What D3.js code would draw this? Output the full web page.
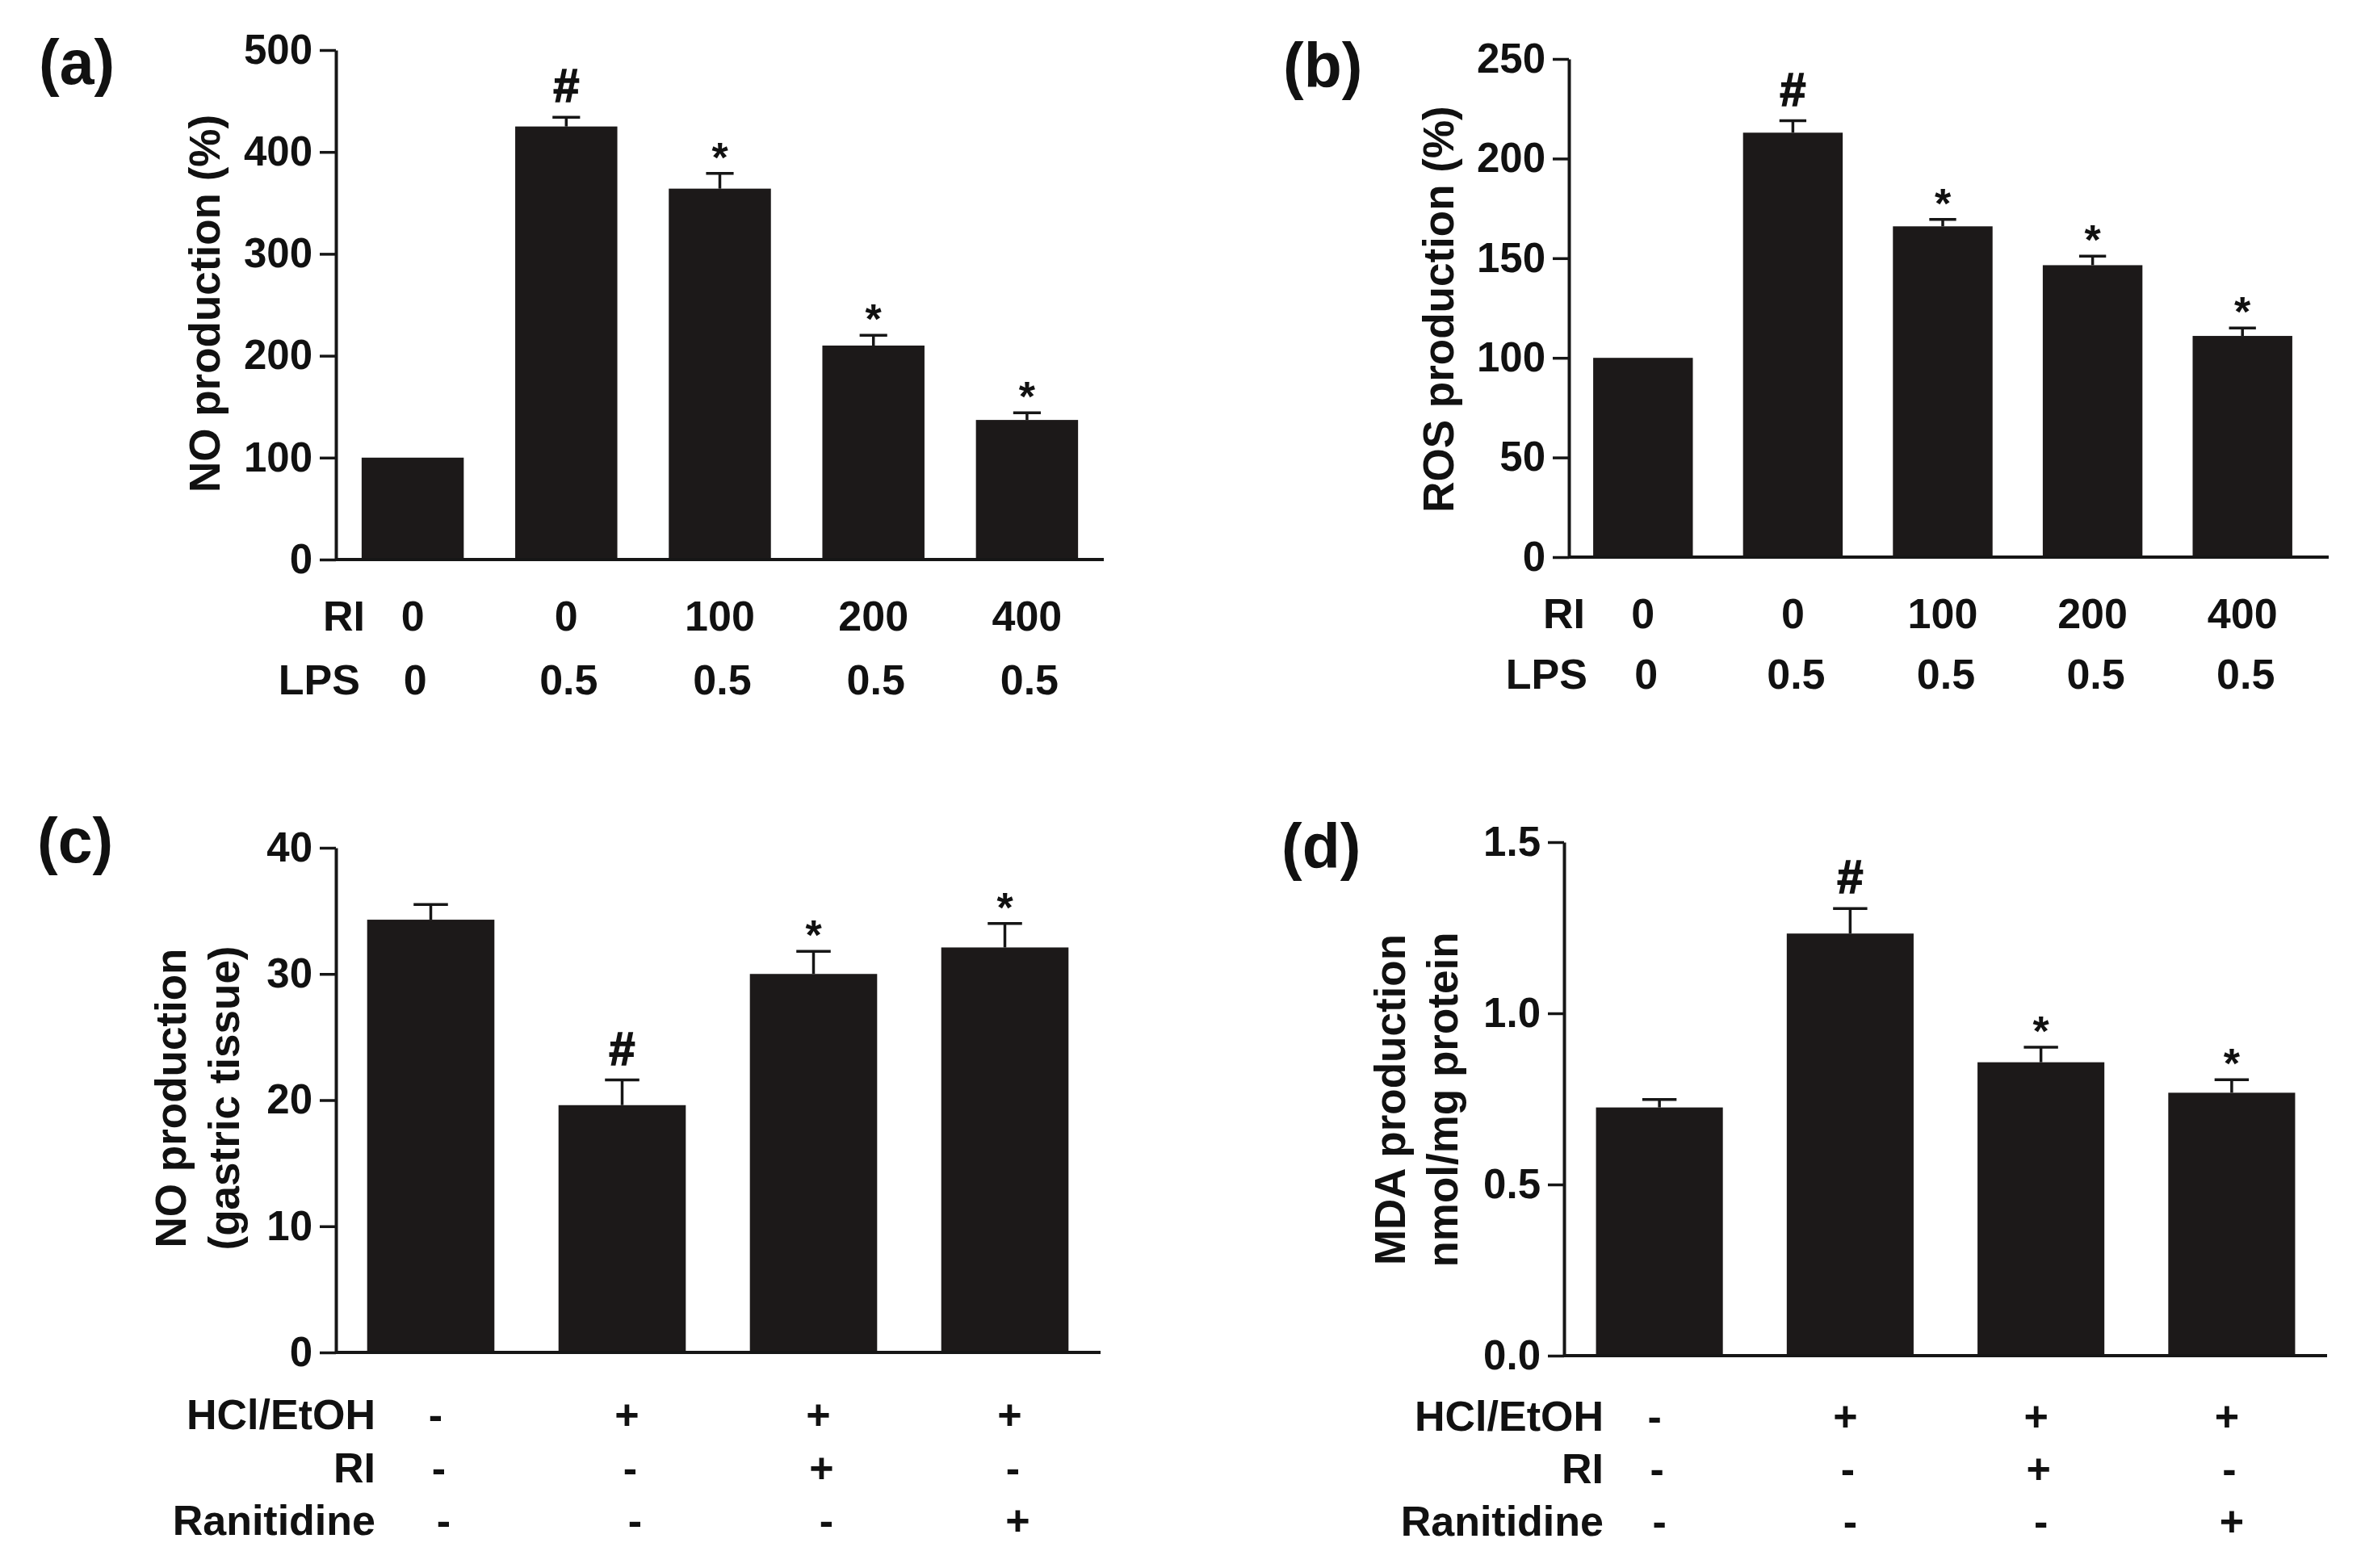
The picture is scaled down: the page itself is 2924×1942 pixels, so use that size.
<!DOCTYPE html>
<html>
<head>
<meta charset="utf-8">
<script src="https://cdn.jsdelivr.net/npm/d3@7"></script>
<style>
  html, body { margin: 0; padding: 0; background: #ffffff; }
  svg { display: block; }
  text { font-family: "Liberation Sans", Arial, sans-serif; font-weight: bold; fill: #111; }
</style>
</head>
<body>
<script>
// ---------------- DATA ----------------
// Panel (a): NO production (%)
const aRI = ["0", "0", "100", "200", "400"];
const aLPS = ["0", "0.5", "0.5", "0.5", "0.5"];
const aValues = [100, 425, 364, 210, 137];
const aErrors = [0, 9, 15, 10, 7];
const aMarks = ["", "#", "*", "*", "*"];
const aTicks = [0, 100, 200, 300, 400, 500];

// Panel (b): ROS production (%)
const bRI = ["0", "0", "100", "200", "400"];
const bLPS = ["0", "0.5", "0.5", "0.5", "0.5"];
const bValues = [100, 213, 166, 146.5, 111];
const bErrors = [0, 6, 3.5, 4.5, 4];
const bMarks = ["", "#", "*", "*", "*"];
const bTicks = [0, 50, 100, 150, 200, 250];

// Panel (c): NO production (gastric tissue)
const cHCl = ["-", "+", "+", "+"];
const cRI = ["-", "-", "+", "-"];
const cRanitidine = ["-", "-", "-", "+"];
const cValues = [34.3, 19.6, 30.0, 32.1];
const cErrors = [1.2, 2.0, 1.8, 1.9];
const cMarks = ["", "#", "*", "*"];
const cTicks = [0, 10, 20, 30, 40];

// Panel (d): MDA production nmol/mg protein
const dHCl = ["-", "+", "+", "+"];
const dRI = ["-", "-", "+", "-"];
const dRanitidine = ["-", "-", "-", "+"];
const dValues = [0.725, 1.233, 0.857, 0.768];
const dErrors = [0.023, 0.073, 0.044, 0.038];
const dMarks = ["", "#", "*", "*"];
const dTicks = [0, 0.5, 1.0, 1.5];

// ---------------- DRAWING ----------------
const W = 2924, H = 1942;
const svg = d3.select("body").append("svg")
  .attr("width", W).attr("height", H)
  .attr("viewBox", `0 0 ${W} ${H}`);
svg.append("rect").attr("width", W).attr("height", H).attr("fill", "#fff");

const BAR = "#1c1919";
const INK = "#161616";

function drawPanel(cfg) {
  const g = svg.append("g");
  const n = cfg.values.length;
  const x = d3.scaleBand().domain(d3.range(n))
    .range(cfg.band).paddingInner(0.335).paddingOuter(0.1675);
  const y = d3.scaleLinear().domain([0, cfg.max]).range([cfg.y0, cfg.yTop]);
  const bw = x.bandwidth();
  const cx = i => x(i) + bw / 2;

  // bars
  g.selectAll("rect.bar").data(cfg.values).join("rect")
    .attr("class", "bar")
    .attr("x", (d, i) => x(i))
    .attr("y", d => y(d))
    .attr("width", bw)
    .attr("height", d => y(0) - y(d))
    .attr("fill", BAR);

  // error bars (upper only)
  const capW = bw * 0.27;
  const errData = cfg.values.map((v, i) => ({ v, e: cfg.errors[i], i })).filter(d => d.e > 0);
  g.selectAll("line.err").data(errData).join("line")
    .attr("x1", d => cx(d.i)).attr("x2", d => cx(d.i))
    .attr("y1", d => y(d.v)).attr("y2", d => y(d.v + d.e))
    .attr("stroke", INK).attr("stroke-width", 3.5);
  g.selectAll("line.cap").data(errData).join("line")
    .attr("x1", d => cx(d.i) - capW / 2).attr("x2", d => cx(d.i) + capW / 2)
    .attr("y1", d => y(d.v + d.e)).attr("y2", d => y(d.v + d.e))
    .attr("stroke", INK).attr("stroke-width", 3.5);

  // significance marks
  g.selectAll("text.mark").data(cfg.values.map((v, i) => ({ v, i, m: cfg.marks[i], e: cfg.errors[i] })).filter(d => d.m))
    .join("text")
    .attr("x", d => cx(d.i))
    .attr("y", d => y(d.v + d.e) - (d.m === "#" ? 19 : 2))
    .attr("text-anchor", "middle")
    .attr("font-size", d => d.m === "#" ? 58 : 52)
    .attr("stroke", d => d.m === "#" ? "#111" : "none")
    .attr("stroke-width", 1.5)
    .text(d => d.m);

  // y axis
  const axis = d3.axisLeft(y).tickValues(cfg.ticks).tickSize(20).tickSizeOuter(0)
    .tickPadding(9).tickFormat(cfg.fmt);
  const ag = g.append("g").attr("transform", `translate(${cfg.axisX},0)`).call(axis);
  ag.select(".domain").attr("stroke", INK).attr("stroke-width", 4);
  ag.selectAll(".tick line").attr("stroke", INK).attr("stroke-width", 3.5);
  ag.selectAll(".tick text")
    .attr("font-family", "'Liberation Sans', Arial, sans-serif")
    .attr("font-weight", "bold")
    .attr("font-size", 51).attr("fill", "#111");

  // x axis baseline
  g.append("line")
    .attr("x1", cfg.axisX).attr("x2", cfg.axisEnd)
    .attr("y1", y(0)).attr("y2", y(0))
    .attr("stroke", INK).attr("stroke-width", 4);

  // y title (rotated, possibly multi-line)
  cfg.title.forEach((t, k) => {
    g.append("text")
      .attr("transform", `translate(${cfg.titleX[k]},${cfg.titleY}) rotate(-90)`)
      .attr("text-anchor", "middle")
      .attr("font-size", 53)
      .text(t);
  });

  // panel label
  g.append("text")
    .attr("x", cfg.label.x).attr("y", cfg.label.y)
    .attr("font-size", 77)
    .text(cfg.label.t);

  // condition rows below axis
  cfg.rows.forEach(r => {
    g.append("text")
      .attr("x", r.right).attr("y", r.y)
      .attr("text-anchor", "end")
      .attr("font-size", 52)
      .text(r.name);
    g.selectAll(null).data(r.vals).join("text")
      .attr("x", (d, i) => cx(i) + (r.dx || 0))
      .attr("y", r.y)
      .attr("text-anchor", "middle")
      .attr("font-size", 52)
      .text(d => d);
  });
}

drawPanel({
  values: aValues, errors: aErrors, marks: aMarks, ticks: aTicks, max: 500,
  fmt: d3.format("d"),
  axisX: 416, band: [416, 1367], axisEnd: 1367, y0: 693, yTop: 62,
  title: ["NO production (%)"], titleX: [272], titleY: 376,
  label: { t: "(a)", x: 48, y: 104 },
  rows: [
    { name: "RI", vals: aRI, y: 781, right: 452 },
    { name: "LPS", vals: aLPS, y: 860, right: 446, dx: 3 }
  ]
});

drawPanel({
  values: bValues, errors: bErrors, marks: bMarks, ticks: bTicks, max: 250,
  fmt: d3.format("d"),
  axisX: 1943, band: [1942, 2870], axisEnd: 2884, y0: 690, yTop: 73,
  title: ["ROS production (%)"], titleX: [1800], titleY: 383,
  label: { t: "(b)", x: 1589, y: 108 },
  rows: [
    { name: "RI", vals: bRI, y: 778, right: 1963 },
    { name: "LPS", vals: bLPS, y: 853, right: 1966, dx: 4 }
  ]
});

drawPanel({
  values: cValues, errors: cErrors, marks: cMarks, ticks: cTicks, max: 40,
  fmt: d3.format("d"),
  axisX: 416, band: [415, 1363], axisEnd: 1363, y0: 1675, yTop: 1050,
  title: ["NO production", "(gastric tissue)"], titleX: [230, 296], titleY: 1360,
  label: { t: "(c)", x: 46, y: 1068 },
  rows: [
    { name: "HCl/EtOH", vals: cHCl, y: 1770, right: 465, dx: 6 },
    { name: "RI", vals: cRI, y: 1836, right: 465, dx: 10 },
    { name: "Ranitidine", vals: cRanitidine, y: 1901, right: 465, dx: 16 }
  ]
});

drawPanel({
  values: dValues, errors: dErrors, marks: dMarks, ticks: dTicks, max: 1.5,
  fmt: d3.format(".1f"),
  axisX: 1937, band: [1937, 2882], axisEnd: 2882, y0: 1679, yTop: 1043,
  title: ["MDA production", "nmol/mg protein"], titleX: [1740, 1805], titleY: 1362,
  label: { t: "(d)", x: 1587, y: 1075 },
  rows: [
    { name: "HCl/EtOH", vals: dHCl, y: 1772, right: 1986, dx: -6 },
    { name: "RI", vals: dRI, y: 1837, right: 1986, dx: -3 },
    { name: "Ranitidine", vals: dRanitidine, y: 1902, right: 1986, dx: 0 }
  ]
});
</script>
</body>
</html>
